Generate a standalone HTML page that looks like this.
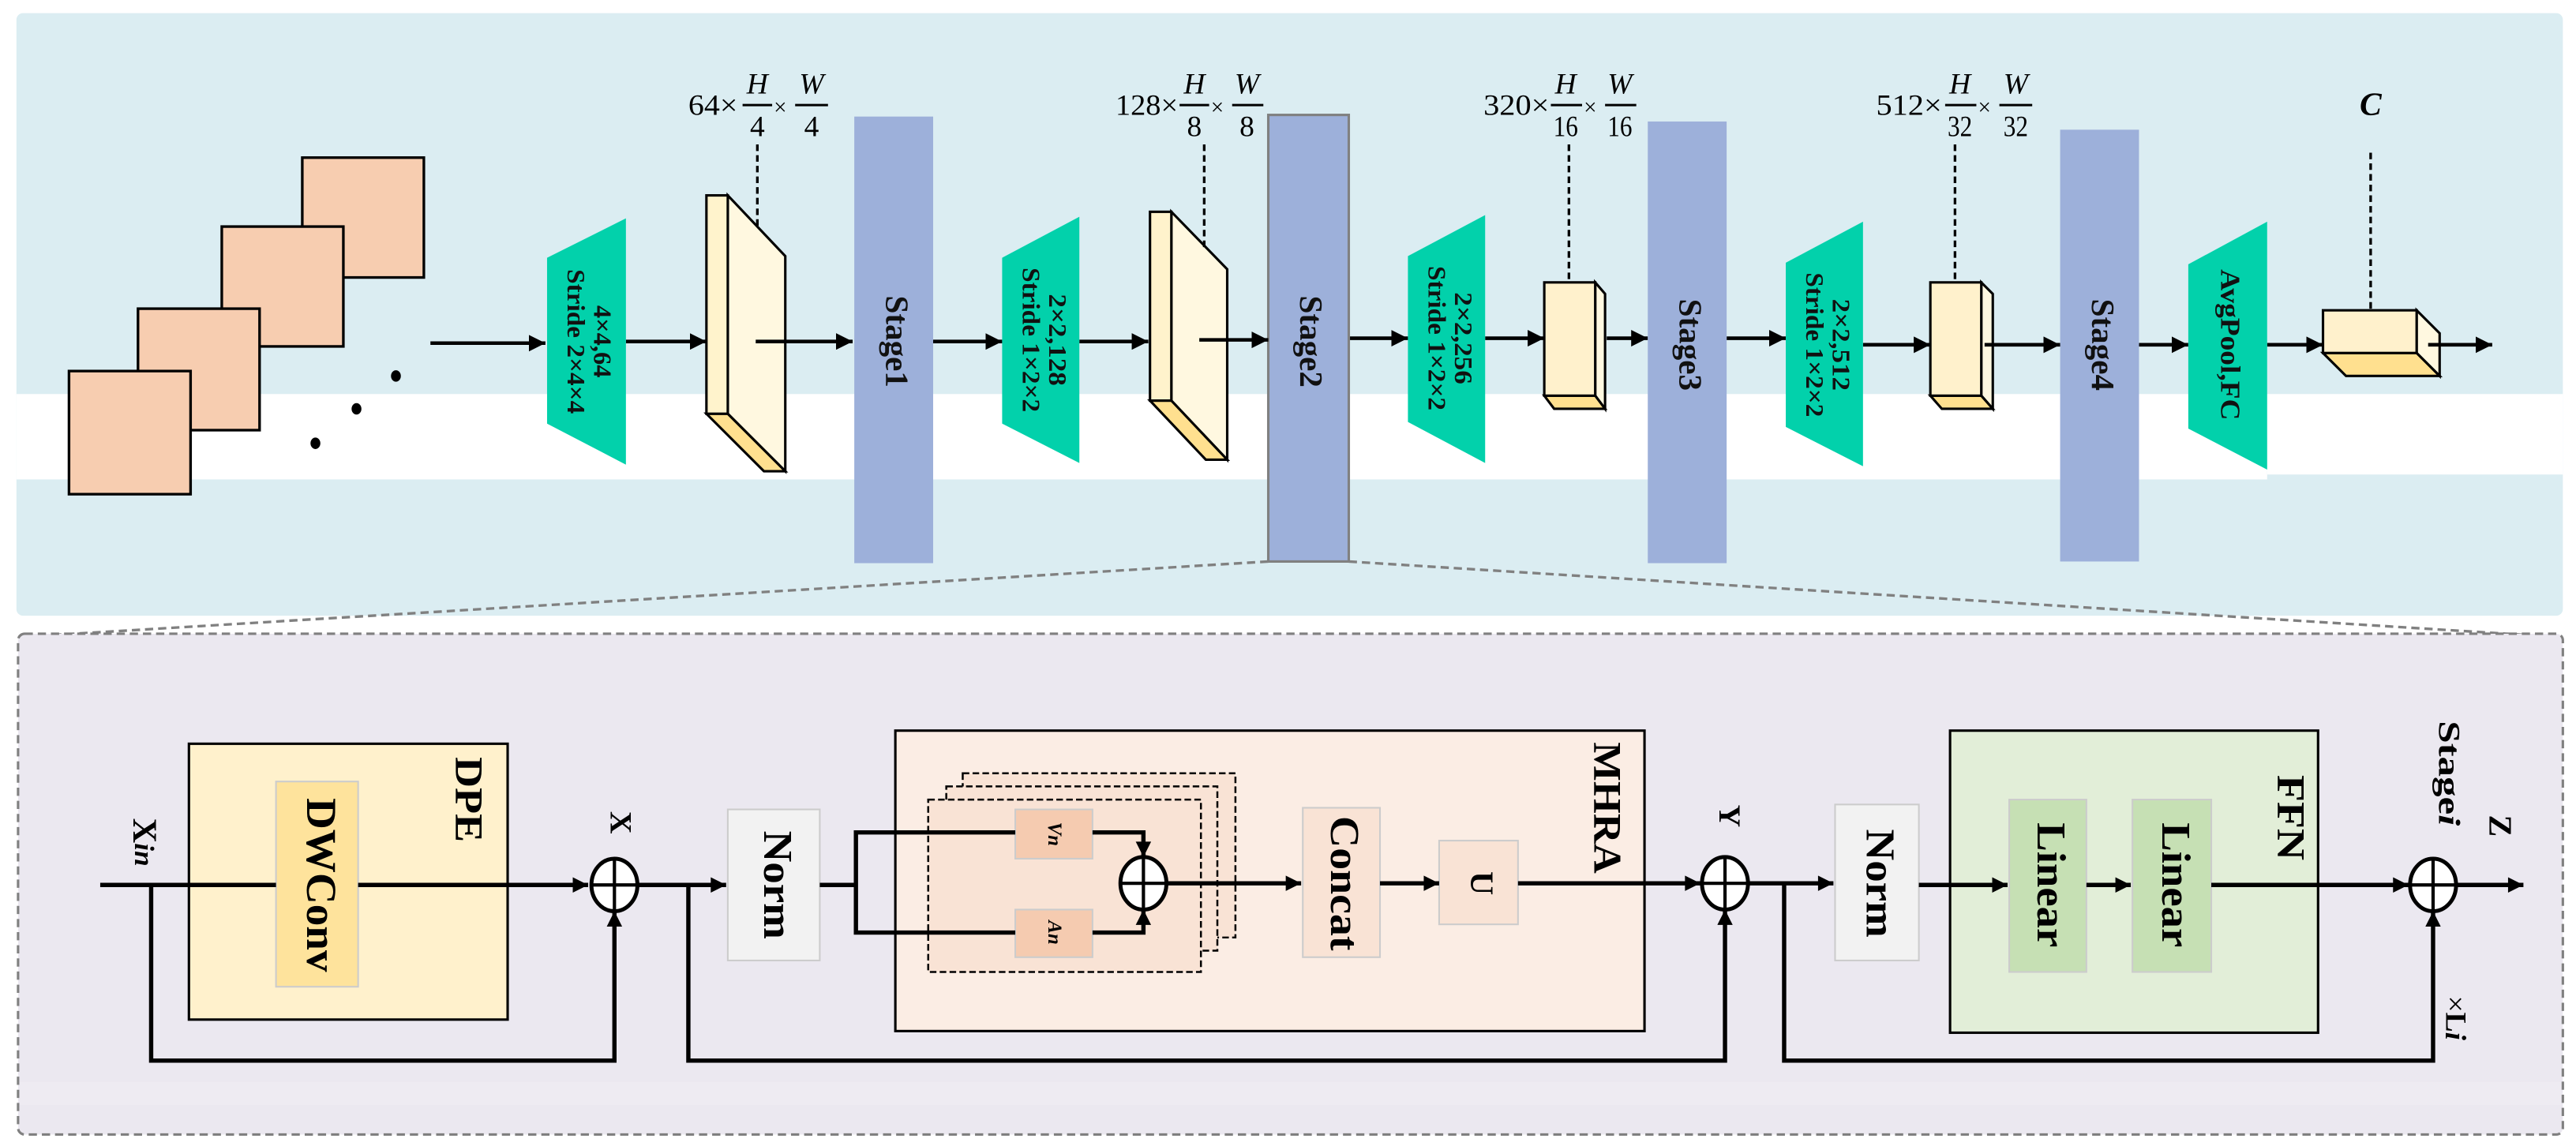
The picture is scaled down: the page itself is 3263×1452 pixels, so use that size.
<!DOCTYPE html>
<html><head><meta charset="utf-8"><style>
html,body{margin:0;padding:0;background:#fff;}
svg{display:block;}
text{font-family:"Liberation Serif",serif;}
.b{font-weight:bold;}
</style></head><body>
<svg width="3263" height="1452" viewBox="0 0 1568 698" preserveAspectRatio="none" xmlns="http://www.w3.org/2000/svg">
<defs>
<marker id="ah" viewBox="0 0 10 10" refX="10" refY="5" markerWidth="4.6" markerHeight="4.6" markerUnits="strokeWidth" orient="auto"><path d="M0,0 L10,5 L0,10 z" fill="#000"/></marker>
<marker id="ah2" viewBox="0 0 10 10" refX="10" refY="5" markerWidth="3.8" markerHeight="3.6" markerUnits="strokeWidth" orient="auto"><path d="M0,0 L10,5 L0,10 z" fill="#000"/></marker>
</defs>

<!-- top panel -->
<rect x="10" y="8" width="1550" height="367" rx="4" fill="#dbedf2"/>
<rect x="10" y="240" width="1370" height="52" fill="#fff"/>
<rect x="1380" y="240" width="180" height="49" fill="#fff"/>

<!-- image stack -->
<g fill="#f7cdb0" stroke="#000" stroke-width="1.6">
<rect x="184" y="96" width="74" height="73"/>
<rect x="135" y="138" width="74" height="73"/>
<rect x="84" y="188" width="74" height="74"/>
<rect x="42" y="226" width="74" height="75"/>
</g>
<g fill="#000"><ellipse cx="241" cy="229" rx="3" ry="3.5"/><ellipse cx="217" cy="249" rx="3" ry="3.5"/><ellipse cx="192" cy="270" rx="3" ry="3.5"/></g>

<!-- top arrows -->
<g stroke="#000" stroke-width="2.2" fill="none" marker-end="url(#ah)">
<line x1="262" y1="209" x2="332" y2="209"/>
<line x1="381" y1="208" x2="430" y2="208"/>
<line x1="568" y1="208" x2="610" y2="208"/>
<line x1="657" y1="208" x2="699" y2="208"/>
<line x1="821" y1="206" x2="857" y2="206"/>
<line x1="904" y1="206" x2="940" y2="206"/>
<line x1="978" y1="206" x2="1003" y2="206"/>
<line x1="1051" y1="206" x2="1087" y2="206"/>
<line x1="1134" y1="210" x2="1175" y2="210"/>
<line x1="1302" y1="210" x2="1332" y2="210"/>
<line x1="1380" y1="210" x2="1414" y2="210"/>
</g>

<!-- trapezoids -->
<g fill="#02d1ab">
<polygon points="333,157 381,133 381,283 333,258"/>
<polygon points="610,157 657,132 657,282 610,258"/>
<polygon points="857,156 904,131 904,282 857,257"/>
<polygon points="1087,160 1134,135 1134,284 1087,260"/>
<polygon points="1332,161 1380,135 1380,286 1332,261"/>
</g>
<g class="b" font-size="15" fill="#111">
<text transform="translate(365,208) rotate(90)" text-anchor="middle" dominant-baseline="middle" textLength="44" lengthAdjust="spacingAndGlyphs">4×4,64</text>
<text transform="translate(349,208) rotate(90)" text-anchor="middle" dominant-baseline="middle" textLength="88" lengthAdjust="spacingAndGlyphs">Stride 2×4×4</text>
<text transform="translate(642,207) rotate(90)" text-anchor="middle" dominant-baseline="middle" textLength="56" lengthAdjust="spacingAndGlyphs">2×2,128</text>
<text transform="translate(626,207) rotate(90)" text-anchor="middle" dominant-baseline="middle" textLength="88" lengthAdjust="spacingAndGlyphs">Stride 1×2×2</text>
<text transform="translate(889,206) rotate(90)" text-anchor="middle" dominant-baseline="middle" textLength="56" lengthAdjust="spacingAndGlyphs">2×2,256</text>
<text transform="translate(873,206) rotate(90)" text-anchor="middle" dominant-baseline="middle" textLength="88" lengthAdjust="spacingAndGlyphs">Stride 1×2×2</text>
<text transform="translate(1119,210) rotate(90)" text-anchor="middle" dominant-baseline="middle" textLength="56" lengthAdjust="spacingAndGlyphs">2×2,512</text>
<text transform="translate(1103,210) rotate(90)" text-anchor="middle" dominant-baseline="middle" textLength="88" lengthAdjust="spacingAndGlyphs">Stride 1×2×2</text>
<text transform="translate(1356,210) rotate(90)" text-anchor="middle" dominant-baseline="middle" textLength="92" lengthAdjust="spacingAndGlyphs" font-size="17">AvgPool,FC</text>
</g>

<!-- stage bars -->
<g fill="#9db0da">
<rect x="520" y="71" width="48" height="272"/>
<rect x="772" y="70" width="49" height="272" stroke="#808080" stroke-width="1.5"/>
<rect x="1003" y="74" width="48" height="269"/>
<rect x="1254" y="79" width="48" height="263"/>
</g>
<g class="b" font-size="20" fill="#111">
<text transform="translate(544,208) rotate(90)" text-anchor="middle" dominant-baseline="middle" textLength="56" lengthAdjust="spacingAndGlyphs">Stage1</text>
<text transform="translate(796,208) rotate(90)" text-anchor="middle" dominant-baseline="middle" textLength="56" lengthAdjust="spacingAndGlyphs">Stage2</text>
<text transform="translate(1027,210) rotate(90)" text-anchor="middle" dominant-baseline="middle" textLength="56" lengthAdjust="spacingAndGlyphs">Stage3</text>
<text transform="translate(1278,210) rotate(90)" text-anchor="middle" dominant-baseline="middle" textLength="56" lengthAdjust="spacingAndGlyphs">Stage4</text>
</g>

<!-- slabs -->
<g stroke="#000" stroke-width="1.5" stroke-linejoin="miter">
<polygon points="443,119 478,156 478,287 443,252" fill="#fff8e0"/>
<polygon points="430,252 443,252 478,287 465,287" fill="#ffe08f"/>
<rect x="430" y="119" width="13" height="133" fill="#fff3cc"/>

<polygon points="713,129 747,164 747,280 713,244" fill="#fff8e0"/>
<polygon points="700,244 713,244 747,280 734,280" fill="#ffe08f"/>
<rect x="700" y="129" width="13" height="115" fill="#fff3cc"/>

<polygon points="971,172 977,179 977,249 971,241" fill="#fff8e0"/>
<polygon points="940,241 971,241 977,249 946,249" fill="#ffe08f"/>
<rect x="940" y="172" width="31" height="69" fill="#fff1cc"/>

<polygon points="1206,172 1213,179 1213,249 1206,241" fill="#fff8e0"/>
<polygon points="1175,241 1206,241 1213,249 1182,249" fill="#ffe08f"/>
<rect x="1175" y="172" width="31" height="69" fill="#fff1cc"/>

<polygon points="1471,189 1485,203 1485,229 1471,215" fill="#fff8e0"/>
<polygon points="1414,215 1471,215 1485,229 1428,229" fill="#ffe08f"/>
<rect x="1414" y="189" width="57" height="26" fill="#fff1cc"/>
</g>
<g stroke="#000" stroke-width="2.2" fill="none" marker-end="url(#ah)">
<line x1="460" y1="208" x2="519" y2="208"/>
<line x1="730" y1="207" x2="772" y2="207"/>
<line x1="1208" y1="210" x2="1254" y2="210"/>
<line x1="1478" y1="210" x2="1517" y2="210"/>
</g>

<!-- dashed leaders -->
<g stroke="#000" stroke-width="1.6" stroke-dasharray="4,2.5">
<line x1="461" y1="88" x2="461" y2="140"/>
<line x1="733" y1="88" x2="733" y2="152"/>
<line x1="955" y1="88" x2="955" y2="172"/>
<line x1="1190" y1="88" x2="1190" y2="172"/>
<line x1="1443" y1="93" x2="1443" y2="189"/>
</g>

<!-- dimension labels -->
<g font-size="18" fill="#000">
<text x="419" y="70" textLength="30" lengthAdjust="spacingAndGlyphs">64×</text>
<line x1="452" y1="64" x2="470" y2="64" stroke="#000" stroke-width="1.4"/>
<text x="461" y="57" font-style="italic" text-anchor="middle">H</text>
<text x="461" y="83" text-anchor="middle">4</text>
<text x="471" y="70" font-size="14">×</text>
<line x1="484" y1="64" x2="504" y2="64" stroke="#000" stroke-width="1.4"/>
<text x="494" y="57" font-style="italic" text-anchor="middle">W</text>
<text x="494" y="83" text-anchor="middle">4</text>

<text x="679" y="70" textLength="38" lengthAdjust="spacingAndGlyphs">128×</text>
<line x1="718" y1="64" x2="736" y2="64" stroke="#000" stroke-width="1.4"/>
<text x="727" y="57" font-style="italic" text-anchor="middle">H</text>
<text x="727" y="83" text-anchor="middle">8</text>
<text x="737" y="70" font-size="14">×</text>
<line x1="750" y1="64" x2="769" y2="64" stroke="#000" stroke-width="1.4"/>
<text x="759" y="57" font-style="italic" text-anchor="middle">W</text>
<text x="759" y="83" text-anchor="middle">8</text>

<text x="903" y="70" textLength="40" lengthAdjust="spacingAndGlyphs">320×</text>
<line x1="944" y1="64" x2="963" y2="64" stroke="#000" stroke-width="1.4"/>
<text x="953" y="57" font-style="italic" text-anchor="middle">H</text>
<text x="953" y="83" text-anchor="middle" textLength="15" lengthAdjust="spacingAndGlyphs">16</text>
<text x="964" y="70" font-size="14">×</text>
<line x1="977" y1="64" x2="996" y2="64" stroke="#000" stroke-width="1.4"/>
<text x="986" y="57" font-style="italic" text-anchor="middle">W</text>
<text x="986" y="83" text-anchor="middle" textLength="15" lengthAdjust="spacingAndGlyphs">16</text>

<text x="1142" y="70" textLength="40" lengthAdjust="spacingAndGlyphs">512×</text>
<line x1="1184" y1="64" x2="1203" y2="64" stroke="#000" stroke-width="1.4"/>
<text x="1193" y="57" font-style="italic" text-anchor="middle">H</text>
<text x="1193" y="83" text-anchor="middle" textLength="15" lengthAdjust="spacingAndGlyphs">32</text>
<text x="1204" y="70" font-size="14">×</text>
<line x1="1217" y1="64" x2="1237" y2="64" stroke="#000" stroke-width="1.4"/>
<text x="1227" y="57" font-style="italic" text-anchor="middle">W</text>
<text x="1227" y="83" text-anchor="middle" textLength="15" lengthAdjust="spacingAndGlyphs">32</text>

<text x="1443" y="70" font-style="italic" font-weight="bold" text-anchor="middle" font-size="20">C</text>
</g>

<!-- zoom lines -->
<g stroke="#808080" stroke-width="1.6" stroke-dasharray="5,3" fill="none">
<line x1="772" y1="342" x2="12" y2="388"/>
<line x1="821" y1="342" x2="1558" y2="388"/>
</g>

<!-- bottom panel -->
<rect x="11" y="386" width="1549" height="305" rx="4" fill="#ebe8f0" stroke="#808080" stroke-width="1.5" stroke-dasharray="5,3"/>
<rect x="12" y="659" width="1547" height="14" fill="#eeebf2"/>

<!-- DPE -->
<rect x="115" y="453" width="194" height="168" fill="#fff1cc" stroke="#000" stroke-width="1.5"/>
<rect x="168" y="476" width="50" height="125" fill="#fee39c" stroke="#ccc" stroke-width="1"/>
<!-- MHRA -->
<rect x="545" y="445" width="456" height="183" fill="#fbede4" stroke="#000" stroke-width="1.5"/>
<rect x="586" y="471" width="166" height="100" fill="#f9e3d5" stroke="#000" stroke-width="1.2" stroke-dasharray="4,2"/>
<rect x="576" y="479" width="165" height="100" fill="#f9e3d5" stroke="#000" stroke-width="1.2" stroke-dasharray="4,2"/>
<rect x="565" y="487" width="166" height="105" fill="#f9e3d5" stroke="#000" stroke-width="1.2" stroke-dasharray="4,2"/>
<rect x="618" y="493" width="47" height="30" fill="#f5cbb0" stroke="#ccc"/>
<rect x="618" y="554" width="47" height="29" fill="#f5cbb0" stroke="#ccc"/>
<rect x="793" y="492" width="47" height="91" fill="#f9e3d5" stroke="#ccc"/>
<rect x="876" y="512" width="48" height="51" fill="#f9e3d5" stroke="#ccc"/>
<!-- Norms -->
<rect x="443" y="493" width="56" height="92" fill="#f2f2f2" stroke="#ccc"/>
<rect x="1117" y="490" width="51" height="95" fill="#f2f2f2" stroke="#ccc"/>
<!-- FFN -->
<rect x="1187" y="445" width="224" height="184" fill="#e2eed8" stroke="#000" stroke-width="1.5"/>
<rect x="1223" y="487" width="47" height="105" fill="#c6e0b4" stroke="#ccc"/>
<rect x="1298" y="487" width="48" height="105" fill="#c6e0b4" stroke="#ccc"/>

<!-- connectors -->
<g stroke="#000" stroke-width="2.6" fill="none">
<line x1="61" y1="539" x2="168" y2="539"/>
<line x1="218" y1="539" x2="358" y2="539" marker-end="url(#ah2)"/>
<polyline points="92,539 92,646 374,646 374,555" marker-end="url(#ah2)"/>
<line x1="389" y1="539" x2="442" y2="539" marker-end="url(#ah2)"/>
<polyline points="419,539 419,646 1050,646 1050,554" marker-end="url(#ah2)"/>
<line x1="499" y1="539" x2="521" y2="539"/>
<polyline points="618,507 521,507 521,568 618,568"/>
<polyline points="665,507 696,507 696,522" marker-end="url(#ah2)"/>
<polyline points="665,568 696,568 696,554" marker-end="url(#ah2)"/>
<line x1="711" y1="538" x2="792" y2="538" marker-end="url(#ah2)"/>
<line x1="840" y1="538" x2="876" y2="538" marker-end="url(#ah2)"/>
<line x1="924" y1="538" x2="1035" y2="538" marker-end="url(#ah2)"/>
<line x1="1065" y1="538" x2="1116" y2="538" marker-end="url(#ah2)"/>
<polyline points="1086,538 1086,646 1481,646 1481,555" marker-end="url(#ah2)"/>
<line x1="1168" y1="539" x2="1222" y2="539" marker-end="url(#ah2)"/>
<line x1="1270" y1="539" x2="1297" y2="539" marker-end="url(#ah2)"/>
<line x1="1346" y1="539" x2="1466" y2="539" marker-end="url(#ah2)"/>
<line x1="1496" y1="539" x2="1536" y2="539" marker-end="url(#ah2)"/>
</g>
<!-- circles -->
<g stroke="#000" stroke-width="2.4" fill="#fff">
<ellipse cx="374" cy="539" rx="14" ry="16"/>
<ellipse cx="696" cy="538" rx="14" ry="16"/>
<ellipse cx="1050" cy="538" rx="14" ry="16"/>
<ellipse cx="1481" cy="539" rx="14" ry="16"/>
</g>
<g stroke="#000" stroke-width="2">
<line x1="374" y1="523" x2="374" y2="555"/><line x1="360" y1="539" x2="388" y2="539"/>
<line x1="696" y1="522" x2="696" y2="554"/><line x1="682" y1="538" x2="710" y2="538"/>
<line x1="1050" y1="522" x2="1050" y2="554"/><line x1="1036" y1="538" x2="1064" y2="538"/>
<line x1="1481" y1="523" x2="1481" y2="555"/><line x1="1467" y1="539" x2="1495" y2="539"/>
</g>

<!-- bottom labels -->
<g class="b" fill="#000">
<text transform="translate(193,539) rotate(90)" text-anchor="middle" dominant-baseline="middle" font-size="26" textLength="106" lengthAdjust="spacingAndGlyphs">DWConv</text>
<text transform="translate(283,487) rotate(90)" text-anchor="middle" dominant-baseline="middle" font-size="24" textLength="52" lengthAdjust="spacingAndGlyphs">DPE</text>
<text transform="translate(86,513) rotate(90)" text-anchor="middle" dominant-baseline="middle" font-size="21">X<tspan font-style="italic" font-size="17">in</tspan></text>
<text transform="translate(376,501) rotate(90)" text-anchor="middle" dominant-baseline="middle" font-size="19">X</text>
<text transform="translate(471,539) rotate(90)" text-anchor="middle" dominant-baseline="middle" font-size="25" textLength="66" lengthAdjust="spacingAndGlyphs">Norm</text>
<text transform="translate(641,508) rotate(90)" text-anchor="middle" dominant-baseline="middle" font-size="12" font-style="italic">Vn</text>
<text transform="translate(641,568) rotate(90)" text-anchor="middle" dominant-baseline="middle" font-size="12" font-style="italic">An</text>
<text transform="translate(816,538) rotate(90)" text-anchor="middle" dominant-baseline="middle" font-size="25" textLength="82" lengthAdjust="spacingAndGlyphs">Concat</text>
<text transform="translate(900,538) rotate(90)" text-anchor="middle" dominant-baseline="middle" font-size="20">U</text>
<text transform="translate(976,492) rotate(90)" text-anchor="middle" dominant-baseline="middle" font-size="24" textLength="80" lengthAdjust="spacingAndGlyphs">MHRA</text>
<text transform="translate(1051,497) rotate(90)" text-anchor="middle" dominant-baseline="middle" font-size="19">Y</text>
<text transform="translate(1142,538) rotate(90)" text-anchor="middle" dominant-baseline="middle" font-size="25" textLength="66" lengthAdjust="spacingAndGlyphs">Norm</text>
<text transform="translate(1246,539) rotate(90)" text-anchor="middle" dominant-baseline="middle" font-size="25" textLength="76" lengthAdjust="spacingAndGlyphs">Linear</text>
<text transform="translate(1322,539) rotate(90)" text-anchor="middle" dominant-baseline="middle" font-size="25" textLength="76" lengthAdjust="spacingAndGlyphs">Linear</text>
<text transform="translate(1392,498) rotate(90)" text-anchor="middle" dominant-baseline="middle" font-size="24" textLength="52" lengthAdjust="spacingAndGlyphs">FFN</text>
<text transform="translate(1520,503) rotate(90)" text-anchor="middle" dominant-baseline="middle" font-size="20">Z</text>
<text transform="translate(1489,471) rotate(90)" text-anchor="middle" dominant-baseline="middle" font-size="19" textLength="64" lengthAdjust="spacingAndGlyphs">Stage<tspan font-style="italic">i</tspan></text>
<text transform="translate(1493,620) rotate(90)" text-anchor="middle" dominant-baseline="middle" font-size="18"><tspan font-weight="normal">×</tspan>L<tspan font-style="italic">i</tspan></text>
</g>
</svg>
</body></html>
